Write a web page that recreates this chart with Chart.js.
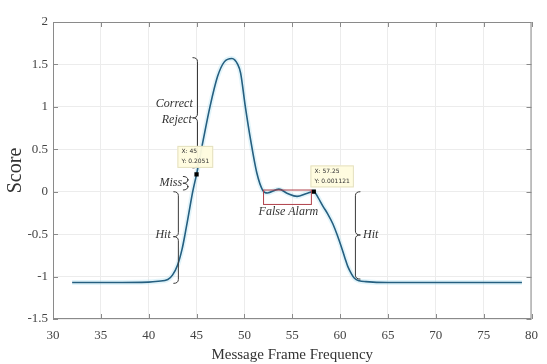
<!DOCTYPE html>
<html>
<head>
<meta charset="utf-8">
<script src="https://cdn.jsdelivr.net/npm/chart.js@4.4.0/dist/chart.umd.min.js"></script>
<style>
  html, body { margin: 0; padding: 0; background: #fff; }
  #wrap { width: 547px; height: 364px; }
</style>
</head>
<body>
<div id="wrap"><canvas id="chart" width="547" height="364"></canvas></div>
<script>
// --- data ---
const freqX = [32, 36, 40, 41, 42, 42.5, 43, 43.5, 43.8, 44.2, 44.6, 45, 45.7, 46.4, 47.2, 47.9, 48.7,
  49.3, 49.6, 50.1, 50.65, 51.3, 51.9, 52.4, 53.6, 54.5, 55.5, 56.5, 57.25, 57.7, 58.2, 58.7, 59.25,
  59.7, 60.1, 60.5, 60.8, 61.2, 61.5, 62, 62.7, 65, 79];
const scoreY = [-1.07, -1.07, -1.065, -1.055, -1.035, -0.98, -0.87, -0.67, -0.5, -0.25, 0.0, 0.2051, 0.61, 1.0, 1.36, 1.53, 1.57,
  1.5, 1.4, 1.0, 0.61, 0.22, 0.02, -0.015, 0.03, -0.02, -0.055, -0.02, 0.001121, -0.07, -0.17, -0.26, -0.38,
  -0.51, -0.64, -0.78, -0.88, -0.97, -1.02, -1.05, -1.06, -1.07, -1.07];
const markX = [45, 57.25];
const markY = [0.2051, 0.001121];
const xTicks = [30, 35, 40, 45, 50, 55, 60, 65, 70, 75, 80];
const yTicks = [-1.5, -1, -0.5, 0, 0.5, 1, 1.5, 2];

// annotation anchors in data units
const braces = [
  { x: 45.1, y1: 1.58, y2: 0.28, tip: 0.87, dir: -1 },
  { x: 44.1, y1: 0.18, y2: 0.02, tip: 0.1, dir: -1 },
  { x: 43.1, y1: 0.0, y2: -1.08, tip: -0.53, dir: -1 },
  { x: 61.6, y1: 0.0, y2: -1.03, tip: -0.51, dir: 1 }
];
const braceLabels = [
  { text: 'Correct', x: 44.6, y: 1.03, align: 'right' },
  { text: 'Reject', x: 44.5, y: 0.85, align: 'right' },
  { text: 'Miss', x: 43.5, y: 0.1, align: 'right' },
  { text: 'Hit', x: 42.3, y: -0.51, align: 'right' },
  { text: 'Hit', x: 62.4, y: -0.51, align: 'left' },
  { text: 'False Alarm', x: 54.6, y: -0.24, align: 'center' }
];
const alarmBox = { x1: 52.0, x2: 57.0, y1: 0.02, y2: -0.15 };
const dataTips = [
  { lines: ['X: 45', 'Y: 0.2051'], x: 43.0, y: 0.54 },
  { lines: ['X: 57.25', 'Y: 0.001121'], x: 56.9, y: 0.31 }
];

const SERIF = '"Liberation Serif", "DejaVu Serif", serif';
const LINE = '#255f80';

function drawBrace(ctx, x, yTop, yBot, yTip, dir) {
  const w = 5 * dir;
  ctx.beginPath();
  ctx.moveTo(x + w, yTop);
  ctx.quadraticCurveTo(x, yTop, x, yTop + 4);
  ctx.lineTo(x, yTip - 4);
  ctx.quadraticCurveTo(x, yTip, x + w, yTip);
  ctx.quadraticCurveTo(x, yTip, x, yTip + 4);
  ctx.lineTo(x, yBot - 4);
  ctx.quadraticCurveTo(x, yBot, x + w, yBot);
  ctx.stroke();
}

const annotatePlugin = {
  id: 'annotate',
  beforeDatasetsDraw(chart) {
    const { ctx, chartArea: a, scales: { x, y } } = chart;
    ctx.save();
    // frame and inward ticks
    ctx.strokeStyle = '#8a8a8a';
    ctx.lineWidth = 1;
    ctx.strokeRect(a.left + 0.5, a.top + 0.5, a.right - a.left - 1, a.bottom - a.top - 1);
    ctx.beginPath();
    xTicks.forEach(v => {
      const px = Math.round(x.getPixelForValue(v)) + 0.5;
      ctx.moveTo(px, a.bottom); ctx.lineTo(px, a.bottom - 5);
      ctx.moveTo(px, a.top); ctx.lineTo(px, a.top + 5);
    });
    yTicks.forEach(v => {
      const py = Math.round(y.getPixelForValue(v)) + 0.5;
      ctx.moveTo(a.left, py); ctx.lineTo(a.left + 5, py);
      ctx.moveTo(a.right, py); ctx.lineTo(a.right - 5, py);
    });
    ctx.stroke();
    ctx.restore();
  },
  afterDatasetsDraw(chart) {
    const { ctx, chartArea: a, scales: { x, y } } = chart;
    ctx.save();

    // false alarm box
    ctx.strokeStyle = '#b0404a';
    ctx.lineWidth = 1;
    const bx1 = x.getPixelForValue(alarmBox.x1), bx2 = x.getPixelForValue(alarmBox.x2);
    const by1 = y.getPixelForValue(alarmBox.y1), by2 = y.getPixelForValue(alarmBox.y2);
    ctx.strokeRect(bx1, by1, bx2 - bx1, by2 - by1);

    // braces
    ctx.strokeStyle = '#3a3a3a';
    ctx.lineWidth = 1;
    braces.forEach(b => {
      drawBrace(ctx, x.getPixelForValue(b.x), y.getPixelForValue(b.y1),
        y.getPixelForValue(b.y2), y.getPixelForValue(b.tip), b.dir);
    });

    // brace labels
    ctx.fillStyle = '#333';
    ctx.font = 'italic 12px ' + SERIF;
    ctx.textBaseline = 'middle';
    braceLabels.forEach(l => {
      ctx.textAlign = l.align;
      ctx.fillText(l.text, x.getPixelForValue(l.x), y.getPixelForValue(l.y));
    });

    // data tips
    ctx.font = '6px "DejaVu Sans", sans-serif';
    ctx.textAlign = 'left';
    dataTips.forEach(t => {
      const px = x.getPixelForValue(t.x), py = y.getPixelForValue(t.y);
      const w = Math.max(...t.lines.map(s => ctx.measureText(s).width)) + 8;
      ctx.fillStyle = 'rgba(255, 252, 222, 0.95)';
      ctx.fillRect(px, py, w, 22);
      ctx.strokeStyle = '#e4e0c0';
      ctx.strokeRect(px + 0.5, py + 0.5, w - 1, 21);
      ctx.fillStyle = '#333';
      t.lines.forEach((s, i) => ctx.fillText(s, px + 4, py + 6 + i * 10));
    });

    // axis titles
    ctx.fillStyle = '#333';
    ctx.textAlign = 'center';
    ctx.font = '15px ' + SERIF;
    ctx.fillText('Message Frame Frequency', (a.left + a.right) / 2, 355);
    ctx.save();
    ctx.translate(16, (a.top + a.bottom) / 2);
    ctx.rotate(-Math.PI / 2);
    ctx.font = '20px ' + SERIF;
    ctx.fillText('Score', 0, 0);
    ctx.restore();

    ctx.restore();
  }
};

const curve = freqX.map((v, i) => ({ x: v, y: scoreY[i] }));
const marks = markX.map((v, i) => ({ x: v, y: markY[i] }));

new Chart(document.getElementById('chart'), {
  type: 'line',
  data: {
    datasets: [
      {
        data: marks,
        showLine: false,
        pointStyle: 'rect',
        pointRadius: 3,
        backgroundColor: '#000',
        borderColor: '#000',
        borderWidth: 0
      },
      {
        data: curve,
        borderColor: LINE,
        borderWidth: 1.6,
        cubicInterpolationMode: 'monotone',
        pointRadius: 0,
        fill: false
      },
      {
        data: curve,
        borderColor: 'rgba(160, 220, 238, 0.3)',
        borderWidth: 5,
        cubicInterpolationMode: 'monotone',
        pointRadius: 0,
        fill: false
      }
    ]
  },
  options: {
    responsive: false,
    animation: false,
    layout: { padding: { top: 22, right: 9, left: 0, bottom: 0 } },
    plugins: { legend: { display: false }, tooltip: { enabled: false } },
    scales: {
      x: {
        type: 'linear',
        min: 30, max: 80,
        afterBuildTicks: s => { s.ticks = xTicks.map(v => ({ value: v })); },
        afterFit: s => { s.height = 45; },
        grid: { color: '#ececec', drawTicks: false },
        border: { display: false },
        ticks: { padding: 9, color: '#444', font: { family: SERIF, size: 13 }, callback: v => String(v) }
      },
      y: {
        type: 'linear',
        min: -1.5, max: 2,
        afterBuildTicks: s => { s.ticks = yTicks.map(v => ({ value: v })); },
        afterFit: s => { s.width = 53; },
        grid: { color: '#ececec', drawTicks: false },
        border: { display: false },
        ticks: { padding: 5, color: '#444', font: { family: SERIF, size: 13 }, callback: v => String(v) }
      }
    }
  },
  plugins: [annotatePlugin]
});
</script>
</body>
</html>
